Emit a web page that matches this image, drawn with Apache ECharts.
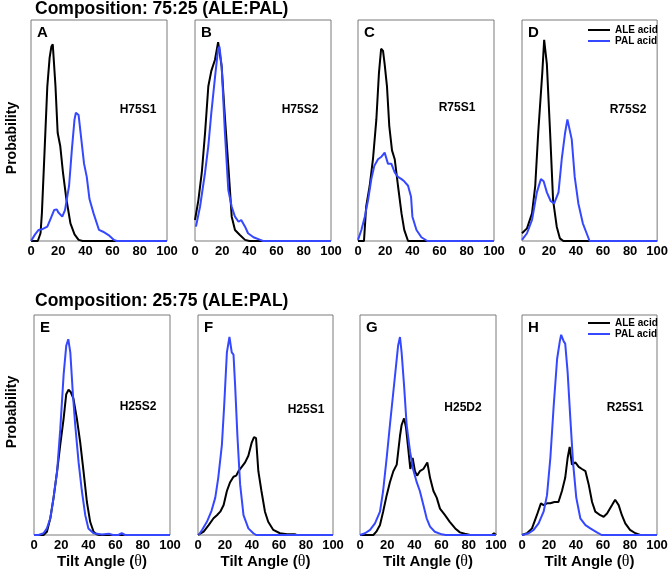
<!DOCTYPE html>
<html>
<head>
<meta charset="UTF-8">
<title>Tilt angle distributions</title>
<script src="https://cdn.jsdelivr.net/npm/echarts@6/dist/echarts.min.js"></script>
<style>
  html, body { margin: 0; padding: 0; background: #fff; }
  #main { width: 671px; height: 578px; }
</style>
</head>
<body>
<div id="main"></div>
<script type="text/javascript">
// tick labels of every x axis
var xTicks = [0, 20, 40, 60, 80, 100];

// panel letters and system names
var letters = ['A', 'B', 'C', 'D', 'E', 'F', 'G', 'H'];
var systems = ['H75S1', 'H75S2', 'R75S1', 'R75S2', 'H25S2', 'H25S1', 'H25D2', 'R25S1'];
var rowTitles = ['Composition: 75:25 (ALE:PAL)', 'Composition: 25:75 (ALE:PAL)'];

// [tilt angle, probability as fraction of panel height]
var aleA = [[0,0],[5,0],[7,0.035],[8,0.125],[10,0.41],[12,0.70],[13.7,0.83],[15,0.88],[16,0.89],[18,0.70],[19.6,0.49],[21.5,0.43],[23.5,0.31],[26,0.19],[29,0.08],[32,0.03],[35,0.005],[38,0],[100,0]];
var palA = [[0,0],[3,0.03],[5.6,0.05],[8,0.053],[12,0.065],[14,0.095],[17,0.14],[19,0.143],[20,0.13],[23,0.11],[25,0.14],[28,0.25],[30,0.41],[32,0.55],[33,0.58],[35,0.57],[37,0.46],[39,0.35],[41,0.29],[43,0.19],[46,0.125],[50,0.05],[53,0.042],[57,0.027],[61,0.005],[63,0],[100,0]];

var aleB = [[0,0.095],[2.5,0.185],[5,0.31],[7.4,0.49],[9.8,0.70],[12,0.77],[14.7,0.82],[17,0.90],[19.6,0.79],[22,0.56],[24.5,0.34],[27,0.11],[29.4,0.05],[33,0.027],[36.8,0.005],[40,0],[100,0]];
var palB = [[0.7,0.065],[3.7,0.155],[7.4,0.31],[9.8,0.43],[12,0.58],[14.7,0.74],[17,0.87],[18,0.88],[19.6,0.79],[22,0.49],[24.5,0.23],[27,0.155],[29.4,0.11],[32,0.087],[34,0.095],[36.8,0.065],[39,0.035],[43,0.017],[48,0.005],[50,0],[100,0]];

var aleC = [[0,0],[4.4,0],[6,0.155],[8.6,0.25],[11,0.37],[13.5,0.55],[15.4,0.76],[17,0.87],[18.4,0.86],[19.6,0.80],[21.3,0.70],[23,0.52],[25,0.41],[27,0.37],[29.4,0.25],[32,0.125],[34,0.05],[36.8,0],[100,0]];
var palC = [[0,0.005],[2.5,0.05],[5,0.11],[7.4,0.185],[9.8,0.28],[12,0.34],[14.7,0.37],[17,0.38],[19.6,0.40],[22,0.35],[24.5,0.35],[27,0.31],[29.4,0.29],[32,0.28],[34,0.27],[36.8,0.25],[39,0.20],[40,0.11],[43,0.05],[46.6,0.017],[51,0],[100,0]];

var aleD = [[0,0.035],[3.7,0.057],[7.4,0.125],[9.8,0.25],[12,0.49],[15,0.76],[16.4,0.91],[18.4,0.80],[20.8,0.49],[23,0.185],[25.7,0.065],[28,0.012],[30.6,0],[100,0]];
var palD = [[0,0.005],[3.7,0.035],[7.4,0.095],[11,0.22],[14,0.28],[16,0.27],[18.4,0.22],[21.3,0.18],[23.8,0.17],[27,0.22],[29.4,0.37],[31.9,0.49],[33.6,0.55],[35,0.55],[36.8,0.46],[39,0.29],[41.7,0.17],[45,0.08],[47.8,0.035],[50,0],[100,0]];

var aleE = [[0,0],[7,0],[9.5,0.015],[12,0.076],[14.4,0.17],[17,0.29],[19.3,0.41],[21.8,0.53],[23.7,0.64],[25.4,0.66],[27,0.65],[29,0.62],[31.5,0.53],[34,0.42],[36.4,0.29],[38.9,0.15],[41.3,0.06],[43.8,0.015],[46,0.003],[48,0],[100,0]];
var palE = [[0,0],[3.4,0],[7,0.008],[9.5,0.03],[12,0.076],[14.4,0.17],[17,0.29],[19.3,0.48],[21.8,0.73],[23.7,0.86],[25.2,0.89],[26.7,0.83],[28.6,0.64],[30.3,0.50],[32.8,0.33],[35.2,0.20],[37.7,0.09],[40,0.03],[43.8,0.008],[50,0.002],[55,0.006],[58,0],[62,0],[64.5,0.008],[67,0],[100,0]];

var aleF = [[0,0],[4.2,0.015],[7.9,0.045],[11.5,0.076],[14,0.09],[16.5,0.106],[19,0.136],[21.4,0.20],[23.8,0.24],[26.3,0.265],[28.3,0.27],[30,0.29],[32.4,0.31],[34.9,0.33],[37.3,0.36],[39.8,0.42],[41.5,0.445],[43,0.44],[44.7,0.29],[47,0.20],[49.6,0.106],[52,0.06],[55.8,0.023],[60.7,0.008],[66,0.003],[72,0.003],[73,0]];
var palF = [[0.5,0],[3,0.023],[6.6,0.06],[10,0.11],[12.8,0.17],[15,0.26],[17.7,0.41],[19.4,0.59],[21.4,0.83],[23.3,0.90],[25,0.83],[26.3,0.82],[27.5,0.68],[29.2,0.45],[31.2,0.23],[33.7,0.09],[37.3,0.03],[41,0.008],[43,0],[100,0]];

var aleG = [[0,0],[9.8,0],[12,0.015],[14.7,0.045],[17,0.106],[19.6,0.18],[22,0.24],[24.5,0.29],[27,0.32],[29.4,0.45],[30.6,0.50],[32.4,0.53],[33.8,0.49],[35.5,0.39],[37,0.30],[38.7,0.35],[40.4,0.29],[42,0.27],[44,0.29],[46.6,0.30],[49.5,0.33],[51.5,0.26],[54,0.20],[56.4,0.17],[58.8,0.12],[62.5,0.09],[66,0.06],[70,0.03],[73.5,0.012],[77,0.006],[81,0],[97,0],[98.5,0.008],[100,0]];
var palG = [[0,0],[3.7,0.008],[7.4,0.023],[11,0.053],[14.7,0.106],[17,0.20],[19.6,0.35],[22,0.50],[24.5,0.65],[26.5,0.77],[28,0.86],[29.4,0.90],[30.6,0.83],[32.4,0.68],[34.3,0.50],[36.8,0.38],[39,0.30],[41.7,0.24],[44,0.20],[46.6,0.136],[49,0.076],[51.5,0.038],[55,0.015],[60,0.003],[63,0],[100,0]];

var aleH = [[0,0],[3.7,0.008],[7.4,0.03],[11,0.09],[14,0.144],[16,0.136],[18.5,0.144],[21,0.144],[24,0.15],[27,0.15],[29.6,0.20],[32,0.26],[33.8,0.35],[35.3,0.40],[37,0.32],[39.5,0.33],[42,0.31],[44.4,0.30],[47,0.29],[49.4,0.23],[51.9,0.15],[54.3,0.106],[58,0.09],[60.5,0.083],[63,0.098],[66.7,0.136],[69,0.16],[71.6,0.136],[74,0.09],[76.5,0.053],[80,0.023],[84,0.008],[87.6,0],[100,0]];
var palH = [[0,0],[5,0.008],[8.6,0.023],[12.3,0.053],[16,0.106],[18.5,0.18],[21,0.35],[23.5,0.59],[26,0.80],[28,0.88],[29,0.91],[30.9,0.88],[32,0.87],[33.8,0.74],[35.8,0.53],[37.8,0.33],[40.2,0.17],[43.2,0.076],[47,0.045],[50.6,0.03],[55.5,0.012],[59,0],[100,0]];

var aleData = [aleA, aleB, aleC, aleD, aleE, aleF, aleG, aleH];
var palData = [palA, palB, palC, palD, palE, palF, palG, palH];

var chart = echarts.init(document.getElementById('main'));

var FONT = 'Liberation Sans';
var ALE_COLOR = '#000000';
var PAL_COLOR = '#3548ff';

// plot boxes (pixels)
var boxes = [
    {left: 31, top: 20, width: 136, height: 221},
    {left: 195, top: 20, width: 136, height: 221},
    {left: 358, top: 20, width: 136, height: 221},
    {left: 522, top: 20, width: 136, height: 221},
    {left: 34, top: 315, width: 136, height: 220},
    {left: 198, top: 315, width: 135, height: 220},
    {left: 360, top: 315, width: 136, height: 220},
    {left: 522, top: 315, width: 135, height: 220}
];
// where the system name sits (centre)
var namePos = [[138, 110], [300, 110], [457, 108], [628, 110], [138, 407], [306, 410], [463, 408], [625, 408]];

var grid = [], xAxis = [], yAxis = [], series = [], graphic = [];

boxes.forEach(function (b, i) {
    grid.push({
        left: b.left, top: b.top, width: b.width, height: b.height,
        show: true, borderColor: '#7a7a7a', borderWidth: 1, backgroundColor: 'transparent'
    });
    var bottomRow = i >= 4;
    xAxis.push({
        type: 'value', gridIndex: i, min: xTicks[0], max: xTicks[xTicks.length - 1], interval: 20,
        axisLine: {show: false},
        axisTick: {show: false},
        splitLine: {show: false},
        axisLabel: {
            color: '#000', fontFamily: FONT, fontWeight: 'bold', fontSize: 13, margin: 4,
            showMaxLabel: true, showMinLabel: true
        },
        name: bottomRow ? 'Tilt Angle ({t|θ})' : '',
        nameLocation: 'middle',
        nameGap: 19,
        nameTextStyle: {
            color: '#000', fontFamily: FONT, fontWeight: 'bold', fontSize: 15,
            rich: {t: {fontFamily: 'Liberation Serif', fontWeight: 'normal', fontSize: 16, color: '#000'}}
        }
    });
    yAxis.push({type: 'value', gridIndex: i, min: 0, max: 1, show: false});

    series.push({
        name: 'ALE acid', type: 'line', xAxisIndex: i, yAxisIndex: i,
        data: aleData[i], showSymbol: false, symbol: 'none',
        lineStyle: {color: ALE_COLOR, width: 2}, itemStyle: {color: ALE_COLOR}
    });
    series.push({
        name: 'PAL acid', type: 'line', xAxisIndex: i, yAxisIndex: i,
        data: palData[i], showSymbol: false, symbol: 'none',
        lineStyle: {color: PAL_COLOR, width: 2}, itemStyle: {color: PAL_COLOR}
    });

    // panel letter
    graphic.push({
        type: 'text', x: b.left + 6, y: b.top + 13,
        style: {text: letters[i], fill: '#000', fontFamily: FONT, fontWeight: 'bold', fontSize: 15,
                textAlign: 'left', textVerticalAlign: 'middle'}
    });
    // system name
    graphic.push({
        type: 'text', x: namePos[i][0], y: namePos[i][1],
        style: {text: systems[i], fill: '#000', fontFamily: FONT, fontWeight: 'bold', fontSize: 12,
                textAlign: 'center', textVerticalAlign: 'middle'}
    });
});

// vertical "Probability" labels
[138, 412].forEach(function (cy) {
    graphic.push({
        type: 'text', x: 12, y: cy, rotation: Math.PI / 2,
        style: {text: 'Probability', fill: '#000', fontFamily: FONT, fontWeight: 'bold', fontSize: 14,
                textAlign: 'center', textVerticalAlign: 'middle'}
    });
});

var option = {
    animation: false,
    backgroundColor: '#fff',
    title: [
        {text: rowTitles[0], left: 35, top: 0, padding: 0,
         textStyle: {color: '#000', fontFamily: FONT, fontWeight: 'bold', fontSize: 17.5}},
        {text: rowTitles[1], left: 35, top: 292, padding: 0,
         textStyle: {color: '#000', fontFamily: FONT, fontWeight: 'bold', fontSize: 17.5}}
    ],
    legend: [
        {left: 588, top: 25, orient: 'vertical', padding: 0, itemGap: 1,
         icon: 'rect', itemWidth: 22, itemHeight: 2, selectedMode: false,
         data: ['ALE acid', 'PAL acid'],
         textStyle: {color: '#000', fontFamily: FONT, fontWeight: 'bold', fontSize: 10}},
        {left: 588, top: 318, orient: 'vertical', padding: 0, itemGap: 1,
         icon: 'rect', itemWidth: 22, itemHeight: 2, selectedMode: false,
         data: ['ALE acid', 'PAL acid'],
         textStyle: {color: '#000', fontFamily: FONT, fontWeight: 'bold', fontSize: 10}}
    ],
    grid: grid,
    xAxis: xAxis,
    yAxis: yAxis,
    series: series,
    graphic: graphic
};

chart.setOption(option);
</script>
</body>
</html>
